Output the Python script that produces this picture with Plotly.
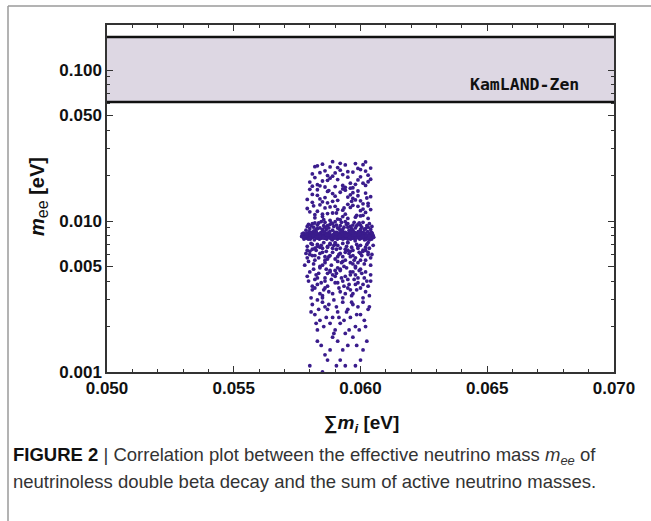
import math
import plotly.graph_objects as go

# ---------------- data ----------------
x_range = [0.050, 0.070]
y_range = [0.001, 0.1986]
x_tick_vals = [0.050, 0.055, 0.060, 0.065, 0.070]
x_tick_text = ["0.050", "0.055", "0.060", "0.065", "0.070"]
y_tick_vals = [0.001, 0.005, 0.010, 0.050, 0.100]
y_tick_text = ["0.001", "0.005", "0.010", "0.050", "0.100"]
y_minor_vals = [0.002, 0.003, 0.004, 0.006, 0.007, 0.008, 0.009,
                0.02, 0.03, 0.04, 0.06, 0.07, 0.08, 0.09, 0.2]

kamland_low = 0.0613
kamland_high = 0.1655
kamland_label = "KamLAND-Zen"

region_top = [
    (0.0583,0.0232),(0.0586,0.0215),(0.0589,0.0198),(0.0592,0.0241),(0.0596,0.0178),(0.0599,0.0223),(0.0602,0.0246),(0.0604,0.0189),
    (0.0581,0.0205),(0.0584,0.0171),(0.0588,0.0228),(0.0594,0.0167),(0.0597,0.0211),(0.0601,0.0236),(0.0603,0.0182),(0.0582,0.0194),
    (0.0585,0.0238),(0.0590,0.0169),(0.0593,0.0203),(0.0598,0.0175),(0.0600,0.0219),(0.0587,0.0186),(0.0591,0.0226),(0.0595,0.0195),
    (0.0602,0.0172),(0.0580,0.0181),(0.0584,0.0209),(0.0589,0.0247),(0.0596,0.0165),(0.0603,0.0201),(0.0583,0.0174),(0.0588,0.0192),
    (0.0592,0.0217),(0.0599,0.0187),(0.0586,0.0168),(0.0594,0.0235),(0.0601,0.0178),(0.0582,0.0229),(0.0590,0.0208),(0.0597,0.0166),
    (0.0604,0.0224),(0.0585,0.0184),(0.0593,0.0172),(0.0600,0.0196),(0.0587,0.0200),(0.0595,0.0212),(0.0581,0.0170),(0.0598,0.0240),
    (0.0591,0.0188),(0.0602,0.0214),
]
region_upper = [
    (0.0579,0.0121),(0.0583,0.0148),(0.0587,0.0112),(0.0591,0.0137),(0.0595,0.0104),(0.0599,0.0158),(0.0603,0.0126),(0.0581,0.0133),
    (0.0585,0.0107),(0.0589,0.0152),(0.0593,0.0118),(0.0597,0.0141),(0.0601,0.0109),(0.0604,0.0145),(0.0580,0.0162),(0.0584,0.0128),
    (0.0588,0.0101),(0.0592,0.0155),(0.0596,0.0123),(0.0600,0.0136),(0.0602,0.0114),(0.0582,0.0110),(0.0586,0.0143),(0.0590,0.0125),
    (0.0594,0.0160),(0.0598,0.0106),(0.0603,0.0131),(0.0579,0.0139),(0.0583,0.0116),(0.0587,0.0157),(0.0591,0.0103),(0.0595,0.0129),
    (0.0599,0.0147),(0.0601,0.0120),(0.0581,0.0150),(0.0585,0.0134),(0.0589,0.0113),(0.0593,0.0163),(0.0597,0.0127),(0.0600,0.0108),
    (0.0604,0.0119),(0.0582,0.0105),(0.0586,0.0122),(0.0590,0.0146),(0.0594,0.0111),(0.0598,0.0138),(0.0602,0.0153),(0.0584,0.0140),
    (0.0588,0.0124),(0.0592,0.0102),(0.0596,0.0149),(0.0600,0.0117),(0.0580,0.0115),(0.0583,0.0161),(0.0587,0.0132),(0.0591,0.0119),
    (0.0595,0.0144),(0.0599,0.0125),(0.0603,0.0104),(0.0585,0.0111),(0.0589,0.0135),(0.0593,0.0107),(0.0597,0.0154),(0.0601,0.0130),
    (0.05815,0.0126),(0.05905,0.0113),(0.05965,0.0135),(0.05855,0.0102),(0.06025,0.0142),(0.05935,0.0122),(0.05875,0.0159),(0.05985,0.0109),
]
region_near = [
    (0.0579,0.0092),(0.0582,0.0097),(0.0585,0.0088),(0.0588,0.0095),(0.0591,0.0090),(0.0594,0.0099),(0.0597,0.0087),(0.0600,0.0094),
    (0.0603,0.0091),(0.0580,0.0089),(0.0583,0.0094),(0.0586,0.0098),(0.0589,0.0087),(0.0592,0.0093),(0.0595,0.0096),(0.0598,0.0090),
    (0.0601,0.0098),(0.0604,0.0088),(0.0581,0.0096),(0.0584,0.0090),(0.0587,0.0093),(0.0590,0.0099),(0.0593,0.0088),(0.0596,0.0092),
    (0.0599,0.0095),(0.0602,0.0089),(0.05785,0.0087),(0.05815,0.0091),(0.05845,0.0099),(0.05875,0.0090),(0.05905,0.0094),(0.05935,0.0091),
    (0.05965,0.0089),(0.05995,0.0097),(0.06025,0.0093),(0.05795,0.0095),(0.05825,0.0088),(0.05855,0.0093),(0.05885,0.0097),(0.05915,0.0089),
    (0.05945,0.0095),(0.05975,0.0098),(0.06005,0.0091),(0.06035,0.0096),(0.05805,0.0093),(0.05835,0.0097),(0.05865,0.0088),(0.05895,0.0092),
    (0.05925,0.0098),(0.05955,0.0087),(0.05985,0.0093),(0.06015,0.0088),(0.06045,0.0092),(0.0586,0.0091),(0.0592,0.0087),(0.0597,0.0094),
    (0.0583,0.0089),(0.0600,0.0088),(0.0589,0.0096),(0.0595,0.0091),
]
region_band = [
    (0.05772,0.0080),(0.05786,0.0077),(0.05799,0.0082),(0.05811,0.0078),(0.05826,0.0084),(0.05838,0.0076),(0.05851,0.0081),(0.05864,0.0079),(0.05877,0.0083),(0.05889,0.0075),
    (0.05903,0.0080),(0.05915,0.0078),(0.05928,0.0085),(0.05941,0.0077),(0.05953,0.0082),(0.05966,0.0079),(0.05979,0.0074),(0.05992,0.0081),(0.06005,0.0078),(0.06018,0.0083),(0.06031,0.0080),(0.06044,0.0076),
    (0.05779,0.0078),(0.05792,0.0083),(0.05805,0.0079),(0.05818,0.0075),(0.05831,0.0081),(0.05844,0.0084),(0.05857,0.0077),(0.05870,0.0080),(0.05883,0.0078),(0.05896,0.0082),
    (0.05909,0.0076),(0.05922,0.0080),(0.05935,0.0083),(0.05948,0.0079),(0.05961,0.0076),(0.05974,0.0082),(0.05987,0.0080),(0.06000,0.0084),(0.06013,0.0077),(0.06026,0.0079),(0.06039,0.0082),(0.06049,0.0079),
    (0.05775,0.0083),(0.05789,0.0079),(0.05802,0.0076),(0.05815,0.0082),(0.05828,0.0079),(0.05841,0.0078),(0.05854,0.0085),(0.05867,0.0076),(0.05880,0.0081),(0.05893,0.0079),
    (0.05906,0.0084),(0.05919,0.0077),(0.05932,0.0079),(0.05945,0.0081),(0.05958,0.0085),(0.05971,0.0077),(0.05984,0.0079),(0.05997,0.0076),(0.06010,0.0081),(0.06023,0.0078),(0.06036,0.0075),(0.06047,0.0081),
    (0.05783,0.0081),(0.05796,0.0078),(0.05808,0.0084),(0.05821,0.0080),(0.05834,0.0077),(0.05847,0.0080),(0.05860,0.0082),(0.05873,0.0078),(0.05886,0.0076),(0.05899,0.0084),
    (0.05912,0.0081),(0.05925,0.0077),(0.05938,0.0080),(0.05951,0.0078),(0.05964,0.0081),(0.05977,0.0084),(0.05990,0.0078),(0.06003,0.0080),(0.06016,0.0075),(0.06029,0.0081),(0.06042,0.0078),(0.05768,0.0079),
    (0.05777,0.0076),(0.05790,0.0081),(0.05803,0.0080),(0.05816,0.0086),(0.05829,0.0077),(0.05842,0.0081),(0.05855,0.0079),(0.05868,0.0083),(0.05881,0.0077),(0.05894,0.0080),
    (0.05907,0.0078),(0.05920,0.0083),(0.05933,0.0077),(0.05946,0.0083),(0.05959,0.0079),(0.05972,0.0080),(0.05985,0.0083),(0.05998,0.0079),(0.06011,0.0084),(0.06024,0.0076),(0.06037,0.0083),(0.06050,0.0080),
    (0.05781,0.0082),(0.05794,0.0076),(0.05807,0.0078),(0.05820,0.0083),(0.05833,0.0080),(0.05846,0.0077),(0.05859,0.0084),(0.05872,0.0081),(0.05885,0.0079),(0.05898,0.0077),
    (0.05911,0.0083),(0.05924,0.0079),(0.05937,0.0081),(0.05950,0.0076),(0.05963,0.0084),(0.05976,0.0078),(0.05989,0.0081),(0.06002,0.0077),(0.06015,0.0082),(0.06028,0.0085),(0.06041,0.0077),(0.05770,0.0082),
    (0.05785,0.0080),(0.05798,0.0085),(0.05812,0.0081),(0.05824,0.0078),(0.05837,0.0082),(0.05850,0.0079),(0.05862,0.0077),(0.05876,0.0084),(0.05888,0.0080),(0.05901,0.0078),
    (0.05914,0.0079),(0.05927,0.0082),(0.05940,0.0084),(0.05952,0.0080),(0.05965,0.0077),(0.05978,0.0081),(0.05991,0.0085),(0.06004,0.0082),(0.06017,0.0079),(0.06030,0.0077),(0.06043,0.0084),(0.06052,0.0078),
    (0.05774,0.0078),(0.05787,0.0082),(0.05800,0.0077),(0.05813,0.0080),(0.05827,0.0083),(0.05840,0.0080),(0.05853,0.0078),(0.05866,0.0081),(0.05879,0.0085),(0.05892,0.0081),
    (0.05905,0.0082),(0.05918,0.0080),(0.05931,0.0076),(0.05944,0.0080),(0.05957,0.0078),(0.05970,0.0083),(0.05983,0.0077),(0.05996,0.0082),(0.06009,0.0079),(0.06022,0.0080),(0.06035,0.0079),(0.06046,0.0083),
]
region_mid = [
    (0.0579,0.0068),(0.0582,0.0055),(0.0585,0.0062),(0.0588,0.0071),(0.0591,0.0058),(0.0594,0.0065),(0.0597,0.0052),(0.0600,0.0069),(0.0603,0.0060),(0.0580,0.0063),
    (0.0583,0.0070),(0.0586,0.0053),(0.0589,0.0066),(0.0592,0.0061),(0.0595,0.0072),(0.0598,0.0057),(0.0601,0.0064),(0.0604,0.0051),(0.0581,0.0059),(0.0584,0.0067),
    (0.0587,0.0056),(0.0590,0.0070),(0.0593,0.0054),(0.0596,0.0063),(0.0599,0.0068),(0.0602,0.0055),(0.05785,0.0061),(0.05815,0.0052),(0.05845,0.0069),(0.05875,0.0058),
    (0.05905,0.0065),(0.05935,0.0050),(0.05965,0.0067),(0.05995,0.0062),(0.06025,0.0070),(0.05795,0.0054),(0.05825,0.0064),(0.05855,0.0072),(0.05885,0.0051),(0.05915,0.0060),
    (0.05945,0.0068),(0.05975,0.0055),(0.06005,0.0059),(0.06035,0.0066),(0.05805,0.0071),(0.05835,0.0057),(0.05865,0.0063),(0.05895,0.0069),(0.05925,0.0053),(0.05955,0.0061),
    (0.05985,0.0070),(0.06015,0.0052),(0.06045,0.0060),(0.0581,0.0065),(0.0584,0.0050),(0.0587,0.0068),(0.0590,0.0056),(0.0593,0.0071),(0.0596,0.0058),(0.0599,0.0053),
    (0.0602,0.0067),(0.0579,0.0057),(0.0582,0.0066),(0.0585,0.0051),(0.0588,0.0059),(0.0591,0.0069),(0.0594,0.0055),(0.0597,0.0064),(0.0600,0.0061),(0.0603,0.0072),
    (0.05800,0.0060),(0.05830,0.0068),(0.05860,0.0055),(0.05890,0.0062),(0.05920,0.0066),(0.05950,0.0072),(0.05980,0.0050),(0.06010,0.0063),(0.06040,0.0057),(0.05790,0.0064),
    (0.05820,0.0059),(0.05850,0.0066),(0.05880,0.0070),(0.05910,0.0054),(0.05940,0.0062),(0.05970,0.0059),(0.06000,0.0055),(0.06030,0.0062),(0.05840,0.0061),(0.05900,0.0072),
    (0.05960,0.0053),(0.06020,0.0064),(0.05870,0.0067),(0.05930,0.0058),(0.05990,0.0066),(0.05810,0.0070),(0.05780,0.0051),(0.06050,0.0069),(0.05860,0.0058),(0.05950,0.0064),
]
region_low = [
    (0.0580,0.0046),(0.0583,0.0038),(0.0586,0.0042),(0.0589,0.0033),(0.0592,0.0048),(0.0595,0.0036),(0.0598,0.0044),(0.0601,0.0031),(0.0604,0.0040),(0.0581,0.0035),
    (0.0584,0.0049),(0.0587,0.0037),(0.0590,0.0043),(0.0593,0.0031),(0.0596,0.0046),(0.0599,0.0039),(0.0602,0.0034),(0.0582,0.0041),(0.0585,0.0032),(0.0588,0.0047),
    (0.0591,0.0039),(0.0594,0.0043),(0.0597,0.0033),(0.0600,0.0048),(0.0603,0.0037),(0.05795,0.0040),(0.05825,0.0044),(0.05855,0.0035),(0.05885,0.0041),(0.05915,0.0036),
    (0.05945,0.0049),(0.05975,0.0041),(0.06005,0.0045),(0.06035,0.0032),(0.05805,0.0031),(0.05835,0.0045),(0.05865,0.0048),(0.05895,0.0030),(0.05925,0.0042),(0.05955,0.0038),
    (0.05985,0.0035),(0.06015,0.0042),(0.05815,0.0048),(0.05845,0.0039),(0.05875,0.0034),(0.05905,0.0045),(0.05935,0.0037),(0.05965,0.0032),(0.05995,0.0047),(0.06025,0.0040),
    (0.0581,0.0037),(0.0584,0.0033),(0.0587,0.0045),(0.0590,0.0047),(0.0593,0.0040),(0.0596,0.0035),(0.0599,0.0042),(0.0602,0.0046),(0.0579,0.0043),(0.0583,0.0030),
    (0.0586,0.0036),(0.0589,0.0044),(0.0592,0.0034),(0.0595,0.0041),(0.0598,0.0049),(0.0601,0.0038),(0.05860,0.0040),(0.05920,0.0047),(0.05980,0.0038),(0.05880,0.0046),
    (0.05940,0.0033),(0.06000,0.0036),(0.05830,0.0042),(0.05900,0.0039),(0.05960,0.0044),(0.05820,0.0036),(0.06040,0.0044),(0.05850,0.0031),(0.05910,0.0049),(0.05970,0.0046),
]
region_lower = [
    (0.0581,0.0028),(0.0584,0.0022),(0.0587,0.0026),(0.0590,0.0019),(0.0593,0.0029),(0.0596,0.0023),(0.0599,0.0027),(0.0602,0.0020),(0.0582,0.0024),(0.0585,0.0029),
    (0.0588,0.0021),(0.0591,0.0025),(0.0594,0.0018),(0.0597,0.0028),(0.0600,0.0024),(0.0603,0.0026),(0.0583,0.0019),(0.0586,0.0027),(0.0589,0.0023),(0.0592,0.0021),
    (0.0595,0.0026),(0.0598,0.0020),(0.0601,0.0029),(0.05805,0.0025),(0.05855,0.0020),(0.05875,0.0028),(0.05905,0.0027),(0.05935,0.0022),(0.05965,0.0029),(0.05985,0.0024),
    (0.06015,0.0022),(0.05835,0.0026),(0.05895,0.0018),(0.05945,0.0025),(0.05995,0.0019),(0.05825,0.0021),(0.05915,0.0023),(0.06035,0.0027),(0.05865,0.0023),(0.05955,0.0019),
]
region_bottom = [
    (0.0580,0.0011),(0.0583,0.0016),(0.0586,0.0013),(0.0589,0.0017),(0.0592,0.0012),(0.0595,0.0015),(0.0598,0.0011),(0.0601,0.0014),(0.0585,0.0010),(0.0588,0.0014),
    (0.0591,0.0016),(0.0594,0.0011),(0.0597,0.0017),(0.0600,0.0012),(0.0587,0.0012),(0.0593,0.0014),(0.05985,0.0015),(0.05905,0.0011),(0.05845,0.0015),(0.06025,0.0016),
]

points = (region_top + region_upper + region_near + region_band +
          region_mid + region_low + region_lower + region_bottom)
sum_m = [p[0] for p in points]
m_ee = [p[1] for p in points]

# ---------------- layout helpers (pixels -> paper) ----------------
W, H = 651, 521
L, R, T, B = 107, 614, 25, 372
def px(x):
    return (x - L) / (R - L)
def py(y):
    return (B - y) / (B - T)

fig = go.Figure()

# KamLAND-Zen band
fig.add_trace(go.Scatter(
    x=[x_range[0], x_range[1], x_range[1], x_range[0], x_range[0]],
    y=[kamland_low, kamland_low, kamland_high, kamland_high, kamland_low],
    mode="lines", fill="toself", fillcolor="#ddd7e3",
    line=dict(width=0), hoverinfo="skip", showlegend=False))
for yv in (kamland_low, kamland_high):
    fig.add_trace(go.Scatter(
        x=x_range, y=[yv, yv], mode="lines",
        line=dict(color="#111111", width=2.5),
        hoverinfo="skip", showlegend=False, cliponaxis=False))

# scatter points
fig.add_trace(go.Scatter(
    x=sum_m, y=m_ee, mode="markers",
    marker=dict(color="#3a1c8c", size=3.8, line=dict(width=0)),
    showlegend=False))

tick_font = dict(family="Liberation Sans, Arial", size=17, color="#111111", weight="bold")
axis_common = dict(showgrid=False, zeroline=False, showline=True,
                   linecolor="#333333", linewidth=1.5, mirror="allticks",
                   ticks="inside", ticklen=6, tickwidth=1.2, tickcolor="#333333",
                   tickfont=tick_font)

fig.update_layout(
    width=W, height=H, autosize=False,
    margin=dict(l=L, r=W - R, t=T, b=H - B),
    paper_bgcolor="white", plot_bgcolor="white",
    xaxis=dict(range=x_range, tickmode="array", tickvals=x_tick_vals, ticktext=x_tick_text,
               minor=dict(dtick=0.001, ticks="inside", ticklen=3, tickwidth=1, tickcolor="#333333"),
               **axis_common),
    yaxis=dict(type="log", range=[math.log10(y_range[0]), math.log10(y_range[1])],
               tickmode="array", tickvals=y_tick_vals, ticktext=y_tick_text,
               minor=dict(tickmode="array", tickvals=y_minor_vals, ticks="inside",
                          ticklen=3, tickwidth=1, tickcolor="#333333"),
               **axis_common),
)

# outer frame lines (left and top)
fig.add_shape(type="line", xref="paper", yref="paper",
              x0=px(8), y0=py(6), x1=px(W + 5), y1=py(6),
              line=dict(color="#9a9a9a", width=1.5))
fig.add_shape(type="line", xref="paper", yref="paper",
              x0=px(8), y0=py(6), x1=px(8), y1=py(H + 5),
              line=dict(color="#9a9a9a", width=1.5))

# band label
fig.add_annotation(xref="paper", yref="paper", x=px(581), y=py(84),
                   xanchor="right", yanchor="middle", showarrow=False,
                   text="<b>" + kamland_label + "</b>",
                   font=dict(family="DejaVu Sans Mono", size=16.5, color="#111111"))

# axis titles
title_font = dict(family="Liberation Sans, Arial", size=20, color="#111111")
fig.add_annotation(xref="paper", yref="paper", x=px(38), y=py(197),
                   xanchor="center", yanchor="middle", showarrow=False, textangle=-90,
                   text="<b><i>m</i></b><sub><span style='font-size:16px'>ee</span></sub><b> [eV]</b>",
                   font=title_font)
fig.add_annotation(xref="paper", yref="paper", x=px(361), y=py(424),
                   xanchor="center", yanchor="middle", showarrow=False,
                   text="<b>∑<i>m</i></b><sub><b><i>i</i></b></sub><b> [eV]</b>", font=dict(title_font, size=19))

# caption
cap_font = dict(family="Liberation Sans, Arial", size=18.5, color="#333333")
fig.add_annotation(xref="paper", yref="paper", x=px(11), y=py(456),
                   xanchor="left", yanchor="middle", showarrow=False, align="left",
                   text="<b><span style='color:#111111'>FIGURE 2</span></b> | Correlation plot between the effective neutrino mass <i>m<sub>ee</sub></i> of",
                   font=cap_font)
fig.add_annotation(xref="paper", yref="paper", x=px(11), y=py(481),
                   xanchor="left", yanchor="middle", showarrow=False, align="left",
                   text="neutrinoless double beta decay and the sum of active neutrino masses.",
                   font=cap_font)

fig.write_html("out.html", config={"displayModeBar": False},
               post_script="document.body.style.margin='0px';")
